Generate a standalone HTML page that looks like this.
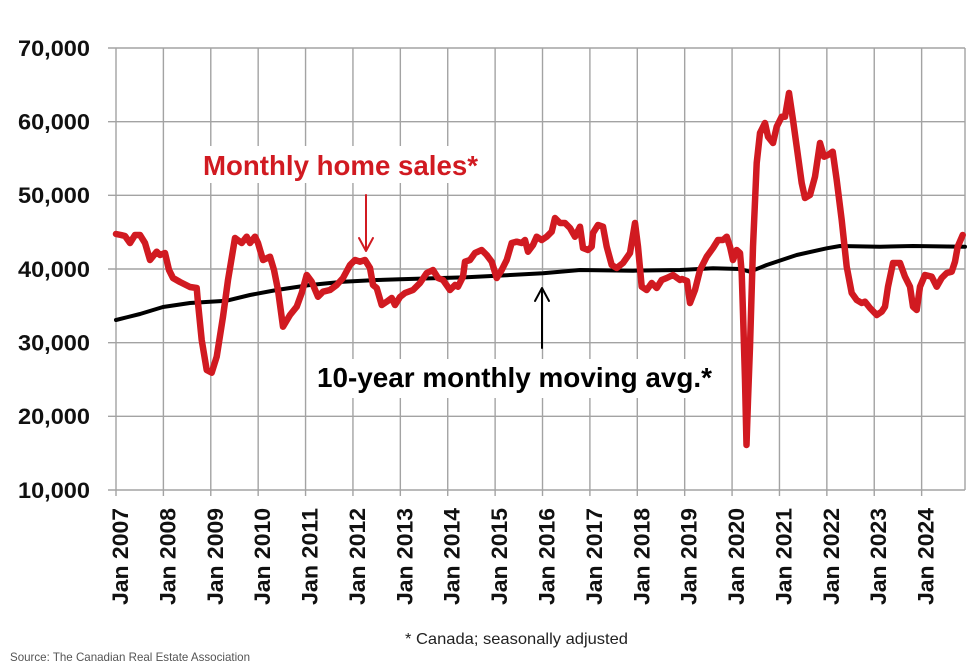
<!DOCTYPE html>
<html>
<head>
<meta charset="utf-8">
<style>
  html, body { margin:0; padding:0; background:#ffffff; }
  body { width:980px; height:671px; overflow:hidden; }
  svg { display:block; }
  text { font-family:"Liberation Sans", Arial, sans-serif; }
</style>
</head>
<body>
<svg width="980" height="671" viewBox="0 0 980 671" xmlns="http://www.w3.org/2000/svg">
  <rect x="0" y="0" width="980" height="671" fill="#ffffff"/>

  <!-- horizontal gridlines -->
  <g stroke="#a3a3a3" stroke-width="1.4" fill="none">
    <line x1="108" y1="48" x2="965" y2="48"/>
    <line x1="108" y1="121.67" x2="965" y2="121.67"/>
    <line x1="108" y1="195.33" x2="965" y2="195.33"/>
    <line x1="108" y1="269" x2="965" y2="269"/>
    <line x1="108" y1="342.67" x2="965" y2="342.67"/>
    <line x1="108" y1="416.33" x2="965" y2="416.33"/>
    <line x1="108" y1="490" x2="965" y2="490"/>
    <!-- vertical gridlines -->
    <line x1="116" y1="48" x2="116" y2="496"/>
    <line x1="163.39" y1="48" x2="163.39" y2="496"/>
    <line x1="210.78" y1="48" x2="210.78" y2="496"/>
    <line x1="258.17" y1="48" x2="258.17" y2="496"/>
    <line x1="305.56" y1="48" x2="305.56" y2="496"/>
    <line x1="352.95" y1="48" x2="352.95" y2="496"/>
    <line x1="400.34" y1="48" x2="400.34" y2="496"/>
    <line x1="447.73" y1="48" x2="447.73" y2="496"/>
    <line x1="495.12" y1="48" x2="495.12" y2="496"/>
    <line x1="542.51" y1="48" x2="542.51" y2="496"/>
    <line x1="589.9" y1="48" x2="589.9" y2="496"/>
    <line x1="637.29" y1="48" x2="637.29" y2="496"/>
    <line x1="684.68" y1="48" x2="684.68" y2="496"/>
    <line x1="732.07" y1="48" x2="732.07" y2="496"/>
    <line x1="779.46" y1="48" x2="779.46" y2="496"/>
    <line x1="826.85" y1="48" x2="826.85" y2="496"/>
    <line x1="874.24" y1="48" x2="874.24" y2="496"/>
    <line x1="921.63" y1="48" x2="921.63" y2="496"/>
    <line x1="965" y1="48" x2="965" y2="490"/>
  </g>

  <!-- annotation white boxes -->
  <rect x="198" y="146" width="286" height="37" fill="#ffffff"/>
  <rect x="311" y="359" width="407" height="39" fill="#ffffff"/>

  <!-- 10-year moving average (black) -->
  <polyline fill="none" stroke="#000000" stroke-width="4" stroke-linejoin="round" stroke-linecap="round"
    points="116,320 140,314 163,307 190,303 210,301.7 226.7,300.7 250,295 276.7,290 310,285 343,281.7 376.7,280 400,279.3 466.7,277.3 543,273.3 580,270 633,270.7 680,270 713,268.3 740,269 750,271.7 766.7,265 796.7,255 826.7,248.3 840,246 880,246.7 913,246 965,246.7"/>

  <!-- Monthly home sales (red) -->
  <polyline fill="none" stroke="#d11a21" stroke-width="6.5" stroke-linejoin="round" stroke-linecap="round"
    points="116,234 121,235 125,236 130,243 135,235 140,235 145,243 150,260 156.7,251.7 160,255 165,253 169,270 173,278 180,282 190,287 196.7,288 198,303 201.7,340 206.7,370 211.7,372.7 216.7,356.7 223,316.7 228,280 235,238 241.7,243 246.7,236.7 250,243 255,236.7 258,243 263,260 270,256.7 274,270 278,290 283,326.7 290,315 296.7,306.7 301.7,293 306.7,275 311.7,281.7 318,296.7 323,291.7 330,290 336.7,285 343,278 350,265 355,260 360,261.7 365,260 370,268 373,285 376.7,288 381.7,305 386.7,301.7 391.7,298 395,305 400,297 405,293 413,290 420,283 426.7,273 433,270 438,278 443,280 450,290 455,285 458,286.7 463,276.7 465,261.7 470,260 475,253 481.7,250 486.7,255 491.7,261.7 496.7,278 501.7,270 506.7,260 511.7,243 516.7,241.7 521.7,243 525,240 528,251.7 533,245 536.7,236.7 541.7,240 546.7,236.7 551.7,231.7 555,218 560,223 565,223 570,228 575,236.7 580,226.7 583,248 588,250 591.7,246.7 593,233 598,225 603,226.7 606.7,246.7 611.7,265 616.7,268 623,263 630,253 635,223 638,246.7 641.7,286.7 646.7,290 651.7,283 656.7,288 661.7,280 666.7,278 673,275 680,280 682,279 687,281 690,303 695,290 700,270 706.7,256.7 713,248 718,240 723,240 726.7,236.7 730,246.7 733,260 736.7,250 740,253 741.7,273 743,313 745,380 746.5,445 748,400 750,346.7 753,246.7 756.7,163 760,133 765,123 768,136.7 773,143 776.7,126.7 781.7,116.7 785,116.7 789,93 793,120 796.7,146.7 801.7,183 805,198 810,195 815,176.7 820,143 824,156.7 828,155 832.7,151.7 836.7,180 841.7,220 846.7,266.7 851.7,293 856.7,300 861.7,303 865,301.7 870,308 876.7,315 881.7,311.7 885,306.7 888,286.7 893,263 900,263 905,276.7 910,286.7 913,306.7 916.7,310 920,286.7 925,275 931.7,276.7 936.7,286.7 941.7,278 946.7,273 951.7,271.7 955,261.7 957.7,246.7 962.7,235"/>

  <!-- arrows -->
  <g stroke="#d11a21" stroke-width="2" fill="none" stroke-linecap="round" stroke-linejoin="round">
    <line x1="366" y1="195" x2="366" y2="250"/>
    <polyline points="359,238 366,251 373,238"/>
  </g>
  <g stroke="#000000" stroke-width="2" fill="none" stroke-linecap="round" stroke-linejoin="round">
    <line x1="542" y1="289" x2="542" y2="348"/>
    <polyline points="535,301 542,288 549,301"/>
  </g>

  <!-- annotation texts -->
  <text x="203" y="175" font-size="28" font-weight="bold" fill="#d11a21" textLength="275" lengthAdjust="spacingAndGlyphs">Monthly home sales*</text>
  <text x="317" y="387" font-size="28" font-weight="bold" fill="#000000" textLength="395" lengthAdjust="spacingAndGlyphs">10-year monthly moving avg.*</text>

  <!-- y-axis labels -->
  <g font-size="22" font-weight="bold" fill="#111111" text-anchor="end">
    <text x="90" y="56" textLength="72" lengthAdjust="spacingAndGlyphs">70,000</text>
    <text x="90" y="129.5" textLength="72" lengthAdjust="spacingAndGlyphs">60,000</text>
    <text x="90" y="203.2" textLength="72" lengthAdjust="spacingAndGlyphs">50,000</text>
    <text x="90" y="276.8" textLength="72" lengthAdjust="spacingAndGlyphs">40,000</text>
    <text x="90" y="350.5" textLength="72" lengthAdjust="spacingAndGlyphs">30,000</text>
    <text x="90" y="424.2" textLength="72" lengthAdjust="spacingAndGlyphs">20,000</text>
    <text x="90" y="497.8" textLength="72" lengthAdjust="spacingAndGlyphs">10,000</text>
  </g>

  <!-- x-axis labels -->
  <g font-size="22" font-weight="bold" fill="#111111" text-anchor="end">
    <text transform="translate(128,508) rotate(-90)" textLength="97" lengthAdjust="spacingAndGlyphs">Jan 2007</text>
    <text transform="translate(175.39,508) rotate(-90)" textLength="97" lengthAdjust="spacingAndGlyphs">Jan 2008</text>
    <text transform="translate(222.78,508) rotate(-90)" textLength="97" lengthAdjust="spacingAndGlyphs">Jan 2009</text>
    <text transform="translate(270.17,508) rotate(-90)" textLength="97" lengthAdjust="spacingAndGlyphs">Jan 2010</text>
    <text transform="translate(317.56,508) rotate(-90)" textLength="97" lengthAdjust="spacingAndGlyphs">Jan 2011</text>
    <text transform="translate(364.95,508) rotate(-90)" textLength="97" lengthAdjust="spacingAndGlyphs">Jan 2012</text>
    <text transform="translate(412.34,508) rotate(-90)" textLength="97" lengthAdjust="spacingAndGlyphs">Jan 2013</text>
    <text transform="translate(459.73,508) rotate(-90)" textLength="97" lengthAdjust="spacingAndGlyphs">Jan 2014</text>
    <text transform="translate(507.12,508) rotate(-90)" textLength="97" lengthAdjust="spacingAndGlyphs">Jan 2015</text>
    <text transform="translate(554.51,508) rotate(-90)" textLength="97" lengthAdjust="spacingAndGlyphs">Jan 2016</text>
    <text transform="translate(601.9,508) rotate(-90)" textLength="97" lengthAdjust="spacingAndGlyphs">Jan 2017</text>
    <text transform="translate(649.29,508) rotate(-90)" textLength="97" lengthAdjust="spacingAndGlyphs">Jan 2018</text>
    <text transform="translate(696.68,508) rotate(-90)" textLength="97" lengthAdjust="spacingAndGlyphs">Jan 2019</text>
    <text transform="translate(744.07,508) rotate(-90)" textLength="97" lengthAdjust="spacingAndGlyphs">Jan 2020</text>
    <text transform="translate(791.46,508) rotate(-90)" textLength="97" lengthAdjust="spacingAndGlyphs">Jan 2021</text>
    <text transform="translate(838.85,508) rotate(-90)" textLength="97" lengthAdjust="spacingAndGlyphs">Jan 2022</text>
    <text transform="translate(886.24,508) rotate(-90)" textLength="97" lengthAdjust="spacingAndGlyphs">Jan 2023</text>
    <text transform="translate(933.63,508) rotate(-90)" textLength="97" lengthAdjust="spacingAndGlyphs">Jan 2024</text>
  </g>

  <!-- footer -->
  <text x="405" y="644" font-size="16" fill="#222222" textLength="223" lengthAdjust="spacingAndGlyphs">* Canada; seasonally adjusted</text>
  <text x="10" y="661" font-size="12" fill="#555555" textLength="240" lengthAdjust="spacingAndGlyphs">Source: The Canadian Real Estate Association</text>
</svg>
</body>
</html>
